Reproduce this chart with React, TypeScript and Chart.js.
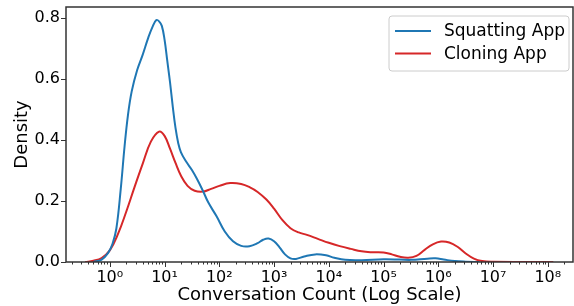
import React, { useEffect, useRef } from "react";
import { Chart, registerables } from "chart.js";

Chart.register(...registerables);

// log10 of conversation count, density
const squattingLogX = [-0.3, -0.15, -0.03, 0.05, 0.12, 0.2, 0.27, 0.33, 0.4, 0.5, 0.6, 0.7, 0.78, 0.85, 0.9, 0.95, 1.0, 1.05, 1.1, 1.15, 1.2, 1.25, 1.3, 1.4, 1.5, 1.6, 1.7, 1.8, 1.95, 2.1, 2.25, 2.4, 2.55, 2.7, 2.8, 2.9, 3.0, 3.1, 3.2, 3.3, 3.4, 3.55, 3.75, 3.95, 4.1, 4.3, 4.6, 5.0, 5.3, 5.5, 5.8, 5.95, 6.1, 6.3, 6.5, 6.75];
const squattingDensity = [0.0, 0.008, 0.03, 0.06, 0.11, 0.24, 0.38, 0.48, 0.56, 0.63, 0.68, 0.735, 0.772, 0.794, 0.79, 0.775, 0.73, 0.66, 0.59, 0.51, 0.44, 0.39, 0.36, 0.328, 0.302, 0.27, 0.234, 0.195, 0.15, 0.1, 0.068, 0.053, 0.052, 0.062, 0.073, 0.077, 0.068, 0.048, 0.025, 0.012, 0.01, 0.018, 0.025, 0.022, 0.014, 0.007, 0.006, 0.009, 0.008, 0.007, 0.011, 0.012, 0.008, 0.003, 0.001, 0.0];

const cloningLogX = [-0.45, -0.3, -0.15, 0.0, 0.15, 0.3, 0.45, 0.6, 0.75, 0.9, 1.0, 1.1, 1.2, 1.3, 1.42, 1.55, 1.7, 1.85, 2.0, 2.2, 2.4, 2.56, 2.7, 2.86, 3.0, 3.15, 3.3, 3.45, 3.6, 3.8, 4.0, 4.2, 4.4, 4.6, 4.8, 5.0, 5.15, 5.3, 5.45, 5.6, 5.75, 5.9, 6.05, 6.2, 6.35, 6.5, 6.65, 6.8, 7.0, 7.5, 8.1];
const cloningDensity = [0.0, 0.004, 0.013, 0.038, 0.092, 0.165, 0.245, 0.322, 0.395, 0.428, 0.414, 0.372, 0.325, 0.283, 0.25, 0.234, 0.231, 0.24, 0.25, 0.259, 0.256, 0.245, 0.23, 0.205, 0.175, 0.138, 0.111, 0.097, 0.089, 0.076, 0.063, 0.052, 0.043, 0.035, 0.032, 0.031, 0.025, 0.017, 0.014, 0.02, 0.04, 0.058, 0.067, 0.064, 0.05, 0.028, 0.011, 0.003, 0.0005, 0.0, 0.0];

const seriesLabels = ["Squatting App", "Cloning App"];
const seriesColors = ["#1f77b4", "#d62728"];
const xTickExponents = [0, 1, 2, 3, 4, 5, 6, 7, 8];
const yTickValues = [0.0, 0.2, 0.4, 0.6, 0.8];
const xAxisTitle = "Conversation Count (Log Scale)";
const yAxisTitle = "Density";

const X_MIN_EXP = -0.8;
const X_MAX_EXP = 8.46;
const Y_MAX = 0.837;

const SUP = ["⁰", "¹", "²", "³", "⁴", "⁵", "⁶", "⁷", "⁸", "⁹"];
const FONT = "'DejaVu Sans', sans-serif";
const AXIS_COLOR = "#333333";

const toPoints = (xs: number[], ys: number[]) =>
  xs.map((e, i) => ({ x: Math.pow(10, e), y: ys[i] }));

const framePlugin = {
  id: "frameTicks",
  afterDraw(chart: any) {
    const { ctx, chartArea } = chart;
    const xs = chart.scales.x;
    const ys = chart.scales.y;
    ctx.save();
    ctx.strokeStyle = AXIS_COLOR;
    ctx.lineWidth = 1;
    ctx.beginPath();
    for (let e = Math.floor(X_MIN_EXP); e <= Math.ceil(X_MAX_EXP); e++) {
      for (let k = 1; k <= 9; k++) {
        const v = k * Math.pow(10, e);
        const lv = Math.log10(v);
        if (lv < X_MIN_EXP || lv > X_MAX_EXP) continue;
        const px = Math.round(xs.getPixelForValue(v)) + 0.5;
        const len = k === 1 ? 5 : 2.5;
        ctx.moveTo(px, chartArea.bottom);
        ctx.lineTo(px, chartArea.bottom + len);
      }
    }
    yTickValues.forEach((v) => {
      const py = Math.round(ys.getPixelForValue(v)) + 0.5;
      ctx.moveTo(chartArea.left, py);
      ctx.lineTo(chartArea.left - 5, py);
    });
    ctx.stroke();
    ctx.lineWidth = 1.5;
    ctx.strokeRect(chartArea.left, chartArea.top, chartArea.right - chartArea.left, chartArea.bottom - chartArea.top);

    // legend
    const bx = 389, by = 16, bw = 180, bh = 55, r = 3;
    ctx.beginPath();
    ctx.moveTo(bx + r, by);
    ctx.arcTo(bx + bw, by, bx + bw, by + bh, r);
    ctx.arcTo(bx + bw, by + bh, bx, by + bh, r);
    ctx.arcTo(bx, by + bh, bx, by, r);
    ctx.arcTo(bx, by, bx + bw, by, r);
    ctx.closePath();
    ctx.fillStyle = "rgba(255,255,255,0.8)";
    ctx.fill();
    ctx.strokeStyle = "#cccccc";
    ctx.lineWidth = 1;
    ctx.stroke();
    ctx.font = `17px ${FONT}`;
    ctx.textBaseline = "middle";
    ctx.textAlign = "left";
    chart.data.datasets.forEach((ds: any, i: number) => {
      const cy = 31 + i * 22.5;
      ctx.strokeStyle = ds.borderColor;
      ctx.lineWidth = 2;
      ctx.beginPath();
      ctx.moveTo(395, cy);
      ctx.lineTo(431, cy);
      ctx.stroke();
      ctx.fillStyle = "#000";
      ctx.fillText(ds.label, 444, cy + 1);
    });
    ctx.restore();
  },
};

export default function App() {
  const ref = useRef<HTMLCanvasElement | null>(null);
  useEffect(() => {
    document.body.style.margin = "0";
    if (!ref.current) return;
    const chart = new Chart(ref.current, {
      type: "line",
      data: {
        datasets: [
          {
            label: seriesLabels[0],
            data: toPoints(squattingLogX, squattingDensity),
            borderColor: seriesColors[0],
            backgroundColor: seriesColors[0],
            borderWidth: 2,
            pointRadius: 0,
            tension: 0.4,
          },
          {
            label: seriesLabels[1],
            data: toPoints(cloningLogX, cloningDensity),
            borderColor: seriesColors[1],
            backgroundColor: seriesColors[1],
            borderWidth: 2,
            pointRadius: 0,
            tension: 0.4,
          },
        ],
      },
      options: {
        responsive: false,
        animation: false,
        devicePixelRatio: 1,
        layout: { padding: { left: 0, right: 1, top: 7, bottom: 0 } },
        plugins: { legend: { display: false }, tooltip: { enabled: false } },
        scales: {
          x: {
            type: "logarithmic",
            min: Math.pow(10, X_MIN_EXP),
            max: Math.pow(10, X_MAX_EXP),
            grid: { display: false, drawTicks: false },
            border: { display: false },
            afterBuildTicks: (scale: any) => {
              scale.ticks = xTickExponents.map((e) => ({ value: Math.pow(10, e), major: true }));
            },
            afterFit: (scale: any) => {
              scale.height = 44;
              scale.paddingLeft = 0;
              scale.paddingRight = 0;
            },
            ticks: {
              autoSkip: false,
              maxRotation: 0,
              padding: 6,
              color: "#000",
              font: { family: FONT, size: 16 },
              callback: (v: any) => "10" + SUP[Math.round(Math.log10(Number(v)))],
            },
            title: {
              display: true,
              text: xAxisTitle,
              color: "#000",
              font: { family: FONT, size: 18 },
              padding: { top: 0, bottom: 0 },
            },
          },
          y: {
            type: "linear",
            min: 0,
            max: Y_MAX,
            grid: { display: false, drawTicks: false },
            border: { display: false },
            afterBuildTicks: (scale: any) => {
              scale.ticks = yTickValues.map((v) => ({ value: v }));
            },
            afterFit: (scale: any) => {
              scale.width = 66;
              scale.paddingTop = 0;
              scale.paddingBottom = 0;
            },
            ticks: {
              padding: 6,
              color: "#000",
              font: { family: FONT, size: 16 },
              callback: (v: any) => Number(v).toFixed(1),
            },
            title: {
              display: true,
              text: yAxisTitle,
              color: "#000",
              font: { family: FONT, size: 18 },
              padding: { top: 12, bottom: 0 },
            },
          },
        },
      },
      plugins: [framePlugin],
    } as any);
    return () => chart.destroy();
  }, []);
  return (
    <div style={{ width: 574, height: 306 }}>
      <canvas ref={ref} width={574} height={306} style={{ display: "block" }} />
    </div>
  );
}
